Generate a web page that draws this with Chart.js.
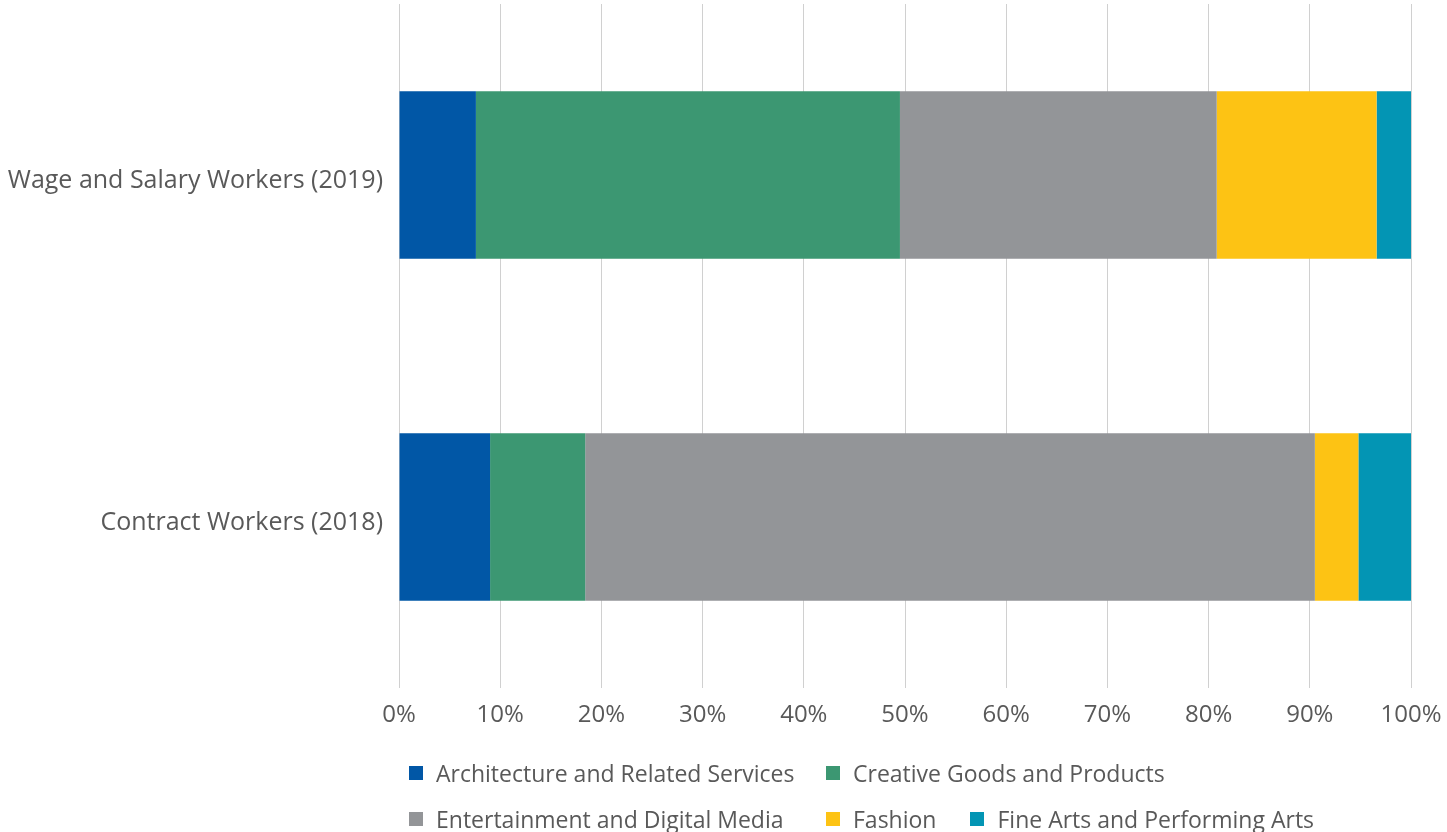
<!DOCTYPE html>
<html lang="en">
<head>
    <meta charset="UTF-8">
    <title>Creative Economy Workers by Segment</title>
    <script src="https://cdn.jsdelivr.net/npm/chart.js@4.4.1/dist/chart.umd.min.js"></script>
    <style>
        html, body { margin: 0; padding: 0; background: #fff; overflow: hidden; }
        .wrap { position: relative; width: 1447px; height: 832px; }
        .legend { position: absolute; left: 409px; top: 750px; font-family: "Open Sans", sans-serif; font-size: 23px; color: #595959; }
        .legend .row { display: flex; height: 46px; align-items: center; white-space: nowrap; }
        .legend .item { display: flex; align-items: center; flex-shrink: 0; margin-right: 34px; }
        .legend .row .item:first-child { width: 404px; margin-right: 13px; }
        .legend .box { width: 14px; height: 14px; flex-shrink: 0; margin-right: 13px; }
    </style>
</head>
<body>
    <div class="wrap">
        <canvas id="chart" width="1447" height="832"></canvas>
        <div class="legend" id="legend"></div>
    </div>
    <script>
        const categories = ['Wage and Salary Workers (2019)', 'Contract Workers (2018)'];
        const segments = ['Architecture and Related Services', 'Creative Goods and Products', 'Entertainment and Digital Media', 'Fashion', 'Fine Arts and Performing Arts'];
        const colors = ['#0157a6', '#3c9772', '#939598', '#fdc314', '#0395b4'];
        // share of workers, percent (wage row, contract row)
        const architecture = [7.6, 9.0];
        const creativeGoods = [41.9, 9.4];
        const entertainment = [31.3, 72.1];
        const fashion = [15.8, 4.3];
        const fineArts = [3.4, 5.2];
        const xTicks = [0, 10, 20, 30, 40, 50, 60, 70, 80, 90, 100];

        const seriesValues = [architecture, creativeGoods, entertainment, fashion, fineArts];
        const textColor = '#595959';
        const font = { family: '"Open Sans", sans-serif', size: 24 };

        new Chart(document.getElementById('chart'), {
            type: 'bar',
            data: {
                labels: categories,
                datasets: segments.map((name, i) => ({
                    label: name,
                    data: seriesValues[i],
                    backgroundColor: colors[i],
                    borderWidth: 0,
                    categoryPercentage: 1,
                    barPercentage: 0.49
                }))
            },
            options: {
                indexAxis: 'y',
                responsive: false,
                animation: false,
                layout: { padding: { top: 4, right: 36 } },
                plugins: { legend: { display: false }, tooltip: { enabled: false } },
                scales: {
                    x: {
                        stacked: true,
                        min: 0,
                        max: 100,
                        afterBuildTicks: s => { s.ticks = xTicks.map(v => ({ value: v })); },
                        afterFit: s => { s.height = 144; s.paddingLeft = 0; s.paddingRight = 0; },
                        grid: { color: '#d0d0d0', lineWidth: 1, drawTicks: false },
                        border: { display: false },
                        ticks: { color: textColor, font: font, padding: 13, callback: v => v + '%' }
                    },
                    y: {
                        stacked: true,
                        afterFit: s => { s.width = 399; s.paddingTop = 0; s.paddingBottom = 0; },
                        grid: { display: false },
                        border: { display: false },
                        ticks: { color: textColor, font: { family: font.family, size: 25 }, padding: 8, labelOffset: 6 }
                    }
                }
            }
        });

        // legend laid out in two rows like the original
        const legendRows = [[0, 1], [2, 3, 4]];
        const legend = document.getElementById('legend');
        legendRows.forEach(row => {
            const r = document.createElement('div');
            r.className = 'row';
            row.forEach(i => {
                const item = document.createElement('div');
                item.className = 'item';
                item.innerHTML = '<span class="box" style="background:' + colors[i] + '"></span><span>' + segments[i] + '</span>';
                r.appendChild(item);
            });
            legend.appendChild(r);
        });
    </script>
</body>
</html>
